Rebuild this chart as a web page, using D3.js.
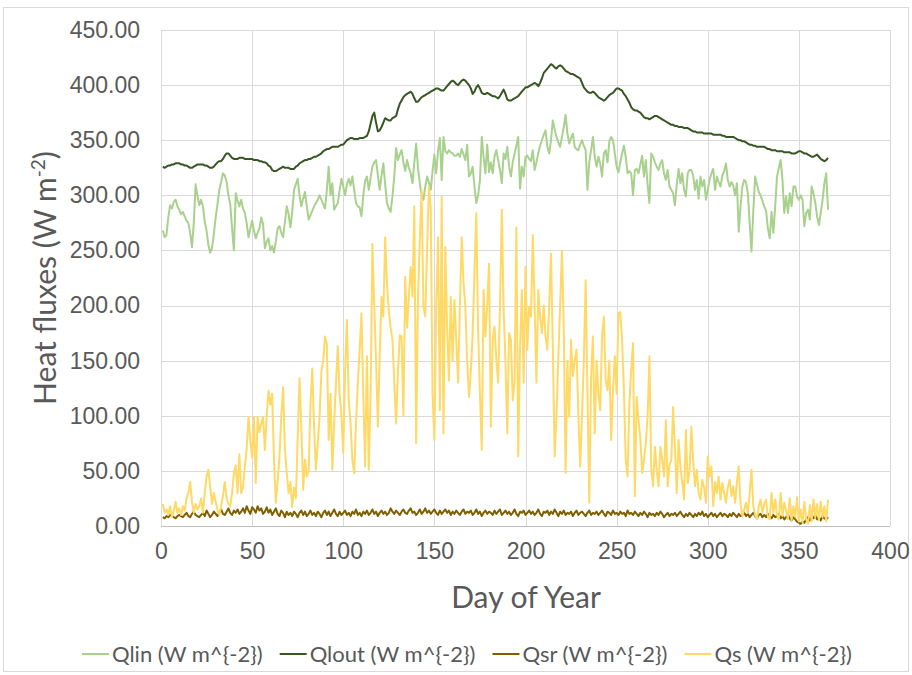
<!DOCTYPE html>
<title>Heat fluxes by day of year</title>
<meta charset="utf-8">
<style>

body {
  margin: 0;
  background: #fff;
  font-family: Lato, "Open Sans", sans-serif;
}

.grid line {
  stroke: #d9d9d9;
  stroke-width: 1;
  shape-rendering: crispEdges;
}

.grid path {
  display: none;
}

.axis text {
  fill: #595959;
  font-size: 23px;
}

.series {
  fill: none;
  stroke-width: 2;
  stroke-linejoin: round;
}

</style>
<body>

<script src="https://d3js.org/d3.v7.min.js"></script>

<script>

// daily values, day 1 .. 366
var qlin = [
  268,262,264,280,291,288,294,296,290,287,
  283,285,281,277,275,266,253,275,310,300,
  291,296,290,276,268,255,248,252,265,280,
  292,305,312,320,318,312,300,292,270,250,
  302,295,290,296,288,284,275,262,270,277,
  268,261,266,270,280,274,252,258,261,250,
  254,248,258,270,272,266,262,276,290,283,
  271,285,305,310,315,300,290,297,303,290,
  278,282,286,290,293,296,300,296,292,288,
  305,326,300,311,287,290,293,305,315,308,
  300,310,315,309,317,305,293,290,289,281,
  300,313,317,305,316,326,330,332,318,305,
  318,329,310,293,288,285,299,317,343,332,
  337,341,330,322,332,325,320,311,330,347,
  325,311,300,296,308,317,312,305,322,337,
  320,340,352,314,353,340,338,341,339,338,
  336,336,338,335,342,337,332,346,317,320,
  326,308,293,300,314,353,335,320,346,321,
  330,320,335,341,332,323,311,338,333,344,
  326,317,330,338,345,353,306,326,317,335,
  336,333,331,341,323,330,338,345,350,355,
  359,344,338,350,368,360,353,348,344,353,
  362,373,356,347,352,356,344,342,341,346,
  350,345,341,305,330,341,353,335,326,335,
  329,317,338,341,330,349,353,350,338,326,
  321,330,338,345,335,320,322,320,300,323,
  324,320,328,336,317,332,310,293,338,335,
  330,326,323,329,332,320,314,323,308,305,
  302,291,310,324,311,320,305,299,320,323,
  323,318,305,314,297,317,308,314,296,305,
  314,320,324,305,317,312,308,318,322,329,
  314,308,312,309,300,311,267,290,308,314,
  312,302,275,249,286,317,310,303,300,295,
  290,286,270,261,285,266,290,317,325,332,
  314,284,299,284,302,290,308,308,299,296,
  300,296,272,284,287,278,308,302,293,281,
  273,284,296,311,320,287
];

var qlout = [
  326,325,326,327,327,328,328,329,329,329,
  328,328,327,327,326,325,325,326,327,328,
  328,328,328,327,327,326,325,325,326,328,
  330,331,331,333,336,338,338,336,334,333,
  333,333,334,334,334,333,333,333,333,333,
  332,332,332,331,331,330,330,329,327,326,
  323,322,322,323,324,325,326,325,325,325,
  324,324,324,326,327,329,330,331,332,332,
  333,333,334,335,335,336,337,338,340,341,
  342,342,343,344,344,344,344,345,346,346,
  348,350,351,352,352,351,351,351,352,352,
  352,353,354,358,365,372,375,366,358,359,
  362,366,370,369,368,368,370,371,372,378,
  383,386,389,391,392,393,394,392,388,385,
  385,387,389,390,391,392,393,394,395,396,
  397,397,396,395,395,397,399,401,403,404,
  403,401,400,402,404,405,404,402,400,397,
  392,394,398,400,397,393,392,392,393,392,
  391,390,390,389,388,390,393,396,392,387,
  386,386,387,388,389,390,392,394,396,398,
  398,399,400,401,402,401,399,402,406,411,
  413,415,417,419,418,416,415,417,418,417,
  415,413,412,411,410,410,409,408,407,406,
  402,398,396,394,393,393,394,393,391,389,
  388,387,386,387,389,391,392,393,395,397,
  397,396,395,392,390,387,384,380,378,377,
  377,376,375,373,371,370,370,369,370,371,
  372,372,371,370,369,368,367,366,365,364,
  364,363,363,362,362,362,361,361,361,360,
  359,358,358,357,357,357,357,356,356,356,
  356,356,355,355,355,355,355,354,354,353,
  353,353,353,353,352,351,350,350,349,349,
  348,347,346,346,345,345,344,344,344,344,
  344,343,342,342,341,341,341,340,340,340,
  340,339,339,339,339,338,338,338,339,340,
  340,339,338,338,337,336,335,335,336,337,
  335,333,332,331,332,334
];

var qsr = [
  8,7,9,8,10,9,8,7,9,10,
  9,8,10,12,9,8,11,13,10,9,
  8,10,12,9,14,11,8,10,13,11,
  9,12,15,11,10,13,16,12,10,14,
  12,15,11,13,16,12,18,14,11,17,
  15,12,18,14,16,11,13,17,12,15,
  10,13,16,11,9,14,12,8,13,10,
  12,9,13,11,8,12,14,10,13,9,
  11,14,10,12,9,13,11,8,12,14,
  10,13,9,12,15,11,9,13,10,12,
  14,10,12,9,13,11,15,10,12,9,
  13,11,14,10,12,15,11,13,9,12,
  14,11,13,10,12,16,13,11,14,12,
  10,13,15,12,11,14,16,12,13,10,
  12,15,11,13,16,12,14,11,13,15,
  12,10,14,11,13,15,12,14,10,13,
  11,14,12,10,13,15,11,13,12,14,
  10,12,15,11,13,9,12,14,11,13,
  12,10,14,11,13,15,10,12,14,11,
  13,10,12,15,11,9,13,12,14,10,
  12,14,11,13,10,12,15,11,9,13,
  12,14,10,13,11,15,12,9,13,11,
  14,10,12,11,13,9,12,14,10,12,
  13,11,9,12,14,10,12,11,13,10,
  12,14,11,9,13,12,10,14,11,12,
  10,13,11,12,9,14,11,12,10,13,
  11,9,12,10,13,11,8,12,10,11,
  9,12,10,13,11,8,10,12,9,11,
  10,12,9,11,13,10,8,11,9,12,
  10,8,11,9,12,10,13,9,11,8,
  10,12,9,11,8,10,12,9,11,10,
  8,11,9,12,10,8,11,9,10,12,
  9,11,8,10,12,9,7,10,11,8,
  10,8,11,9,7,10,8,9,11,7,
  9,6,8,10,7,5,8,6,4,3,
  2,4,3,6,8,5,9,7,10,6,
  8,5,9,7,6,8
];

var qs = [
  20,12,15,10,18,8,14,22,12,16,
  10,18,14,25,30,40,22,12,20,15,
  18,25,12,30,45,51,35,20,30,22,
  15,10,18,28,40,25,20,18,30,48,
  55,30,65,30,35,54,70,99,78,62,
  99,39,99,85,93,99,69,100,123,110,
  120,60,21,40,63,100,126,70,48,30,
  40,17,35,25,80,134,90,33,60,45,
  50,110,143,90,51,75,99,140,150,172,
  165,78,120,51,93,130,163,120,100,66,
  140,187,115,93,60,48,93,130,160,193,
  120,54,154,51,120,256,200,150,90,154,
  208,190,262,220,195,180,169,130,93,140,
  173,172,100,226,180,208,235,208,290,75,
  205,260,305,199,190,250,308,289,120,78,
  200,262,105,299,84,253,180,132,208,150,
  205,169,130,200,262,220,199,150,117,140,
  175,230,284,178,120,69,214,172,200,238,
  90,169,181,151,130,200,287,196,150,84,
  175,169,114,130,271,63,160,214,130,235,
  160,199,190,264,200,130,214,190,175,200,
  172,160,200,247,160,63,100,153,200,250,
  180,48,150,99,169,136,150,160,100,54,
  100,150,223,120,21,136,172,84,150,120,
  105,172,190,132,123,150,78,123,154,120,
  193,194,169,123,60,45,111,142,166,27,
  117,96,80,48,60,75,100,154,51,36,
  72,50,36,72,60,45,96,36,55,60,
  108,70,30,78,54,40,24,87,39,50,
  90,60,36,51,30,24,42,35,21,63,
  45,54,18,40,30,45,24,39,30,21,
  35,42,27,36,21,40,54,20,9,15,
  21,12,30,51,18,10,6,18,24,12,
  20,24,8,6,30,12,24,10,6,30,
  9,21,14,6,25,5,18,8,26,4,
  15,3,22,6,2,19,4,24,8,20,
  5,22,8,18,4,24
];

var seriesNames = ["Qlin (W m^{-2})", "Qlout (W m^{-2})", "Qsr (W m^{-2})", "Qs (W m^{-2})"];
var seriesColors = ["#a9d18e", "#375623", "#7f6000", "#ffd966"];
var yTicks = [0, 50, 100, 150, 200, 250, 300, 350, 400, 450];
var xTicks = [0, 50, 100, 150, 200, 250, 300, 350, 400];

var W = 912, H = 675;
var plot = {left: 161, right: 890, top: 30, bottom: 526};

var svg = d3.select("body").append("svg")
    .attr("width", W)
    .attr("height", H);

// chart frame
svg.append("rect")
    .attr("x", 3.5).attr("y", 7.5)
    .attr("width", W - 7).attr("height", H - 11)
    .attr("fill", "#fff")
    .attr("stroke", "#d9d9d9");

var x = d3.scaleLinear().domain([0, 400]).range([plot.left, plot.right]);
var y = d3.scaleLinear().domain([0, 450]).range([plot.bottom, plot.top]);

// gridlines
svg.append("g")
    .attr("class", "grid")
    .attr("transform", "translate(" + plot.left + ",0)")
    .call(d3.axisLeft(y).tickValues(yTicks).tickSize(-(plot.right - plot.left)).tickFormat(""));
svg.append("g")
    .attr("class", "grid")
    .attr("transform", "translate(0," + plot.bottom + ")")
    .call(d3.axisBottom(x).tickValues(xTicks).tickSize(-(plot.bottom - plot.top)).tickFormat(""));

// axis line
svg.append("line")
    .attr("x1", plot.left).attr("x2", plot.right)
    .attr("y1", plot.bottom + 0.5).attr("y2", plot.bottom + 0.5)
    .attr("stroke", "#bfbfbf");

// series
var all = [qlin, qlout, qsr, qs];
var line = d3.line()
    .x(function(d, i) { return x(i + 1); })
    .y(function(d) { return y(d); });

all.forEach(function(s, k) {
  svg.append("path")
      .attr("class", "series")
      .attr("d", line(s))
      .attr("stroke", seriesColors[k]);
});

// tick labels
var yAxis = svg.append("g")
    .attr("class", "axis")
    .attr("transform", "translate(" + plot.left + ",0)")
    .call(d3.axisLeft(y).tickValues(yTicks).tickSize(0).tickPadding(21).tickFormat(d3.format(".2f")));
yAxis.select(".domain").remove();
yAxis.selectAll("text").attr("font-family", null);

var xAxis = svg.append("g")
    .attr("class", "axis")
    .attr("transform", "translate(0," + plot.bottom + ")")
    .call(d3.axisBottom(x).tickValues(xTicks).tickSize(0).tickPadding(17));
xAxis.select(".domain").remove();
xAxis.selectAll("text").attr("font-family", null);

// axis titles
svg.append("text")
    .attr("x", 526).attr("y", 608)
    .attr("text-anchor", "middle")
    .attr("fill", "#595959")
    .attr("font-size", 30)
    .text("Day of Year");

var yt = svg.append("text")
    .attr("transform", "translate(56,278) rotate(-90)")
    .attr("text-anchor", "middle")
    .attr("fill", "#595959")
    .attr("font-size", 30);
yt.append("tspan").text("Heat fluxes (W m");
yt.append("tspan").attr("font-size", 19).attr("dy", -11).text("-2");
yt.append("tspan").attr("dy", 11).text(")");

// legend
var legend = svg.append("g").attr("class", "legend");
var lx = 0;
seriesNames.forEach(function(name, k) {
  var g = legend.append("g").attr("transform", "translate(" + lx + ",0)");
  g.append("line")
      .attr("x1", 0).attr("x2", 27)
      .attr("y1", 0).attr("y2", 0)
      .attr("stroke", seriesColors[k])
      .attr("stroke-width", 2);
  var t = g.append("text")
      .attr("x", 30).attr("dy", "0.35em")
      .attr("fill", "#595959")
      .attr("font-size", 22)
      .text(name);
  lx += 30 + t.node().getComputedTextLength() + 17;
});
var legendWidth = lx - 17;
legend.attr("transform", "translate(" + (467 - legendWidth / 2) + ",654)");

</script>
</body>
